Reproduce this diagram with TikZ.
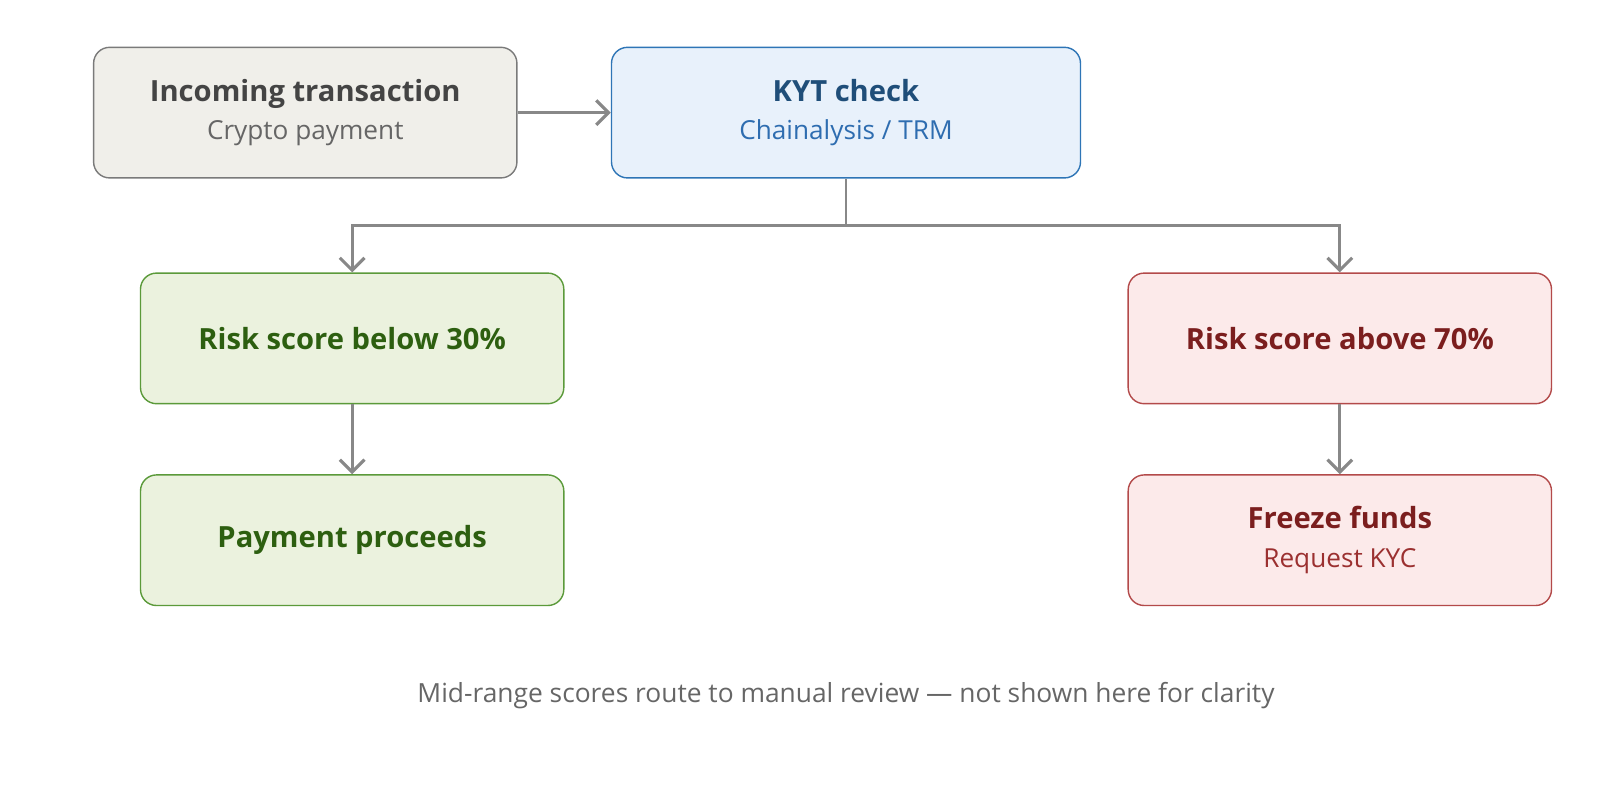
\documentclass[tikz,border=0pt]{standalone}
\usepackage{fontspec}
\setmainfont{Open Sans}
\usetikzlibrary{arrows.meta}
\definecolor{gfill}{HTML}{F0EFEA}\definecolor{gdraw}{HTML}{7A7A7A}
\definecolor{gtitle}{HTML}{444444}\definecolor{gsub}{HTML}{666666}
\definecolor{bfill}{HTML}{E8F1FB}\definecolor{bdraw}{HTML}{2E75B6}
\definecolor{btitle}{HTML}{1F4E79}\definecolor{bsub}{HTML}{2E6DB0}
\definecolor{efill}{HTML}{EBF2DE}\definecolor{edraw}{HTML}{5B9A3A}
\definecolor{etitle}{HTML}{2D5F10}
\definecolor{rfill}{HTML}{FCEAEA}\definecolor{rdraw}{HTML}{B34A4A}
\definecolor{rtitle}{HTML}{7B1E1E}\definecolor{rsub}{HTML}{9B3030}
\definecolor{conn}{HTML}{888888}
\newcommand\mytitle{\fontsize{8.3pt}{10pt}\selectfont\bfseries}
\newcommand\mysub{\fontsize{7.45pt}{9pt}\selectfont}
\begin{document}
\begin{tikzpicture}[x=0.0102cm,y=-0.0102cm,
  box/.style={rounded corners=0.16cm,line width=0.4pt,minimum width=4.233cm,minimum height=1.306cm,align=center,inner sep=0pt},
  arr/.style={draw=conn,line width=0.9pt,-{Straight Barb[length=3.5pt,width=7pt]}}]
\useasboundingbox (0,0) rectangle (16cm,-8cm);
\node[box,fill=gfill,draw=gdraw] (inc) at (299.5,110.5) {{\mytitle\color{gtitle}Incoming transaction}\\[-1pt]{\mysub\color{gsub}Crypto payment}};
\node[box,fill=bfill,draw=bdraw,minimum width=4.69cm] (kyt) at (830,110.5) {{\mytitle\color{btitle}KYT check}\\[-1pt]{\mysub\color{bsub}Chainalysis / TRM}};
\node[box,fill=efill,draw=edraw] (low) at (345.5,332) {\mytitle\color{etitle}Risk score below 30\%};
\node[box,fill=efill,draw=edraw] (pay) at (345.5,530) {\mytitle\color{etitle}Payment proceeds};
\node[box,fill=rfill,draw=rdraw] (high) at (1314.5,332) {\mytitle\color{rtitle}Risk score above 70\%};
\node[box,fill=rfill,draw=rdraw] (frz) at (1314.5,530) {{\mytitle\color{rtitle}Freeze funds}\\[-1pt]{\mysub\color{rsub}Request KYC}};
\node[font=\fontsize{7.5pt}{9pt}\selectfont,text=gsub] (note) at (830,682) {Mid-range scores route to manual review — not shown here for clarity};
\coordinate (j) at (830,221);
\draw[arr] (inc) -- (kyt);
\draw[draw=conn,line width=0.45pt] (kyt.south) -- (j);
\draw[arr] (j) -| (low.north);
\draw[arr] (j) -| (high.north);
\draw[arr] (low) -- (pay);
\draw[arr] (high) -- (frz);
\end{tikzpicture}
\end{document}
